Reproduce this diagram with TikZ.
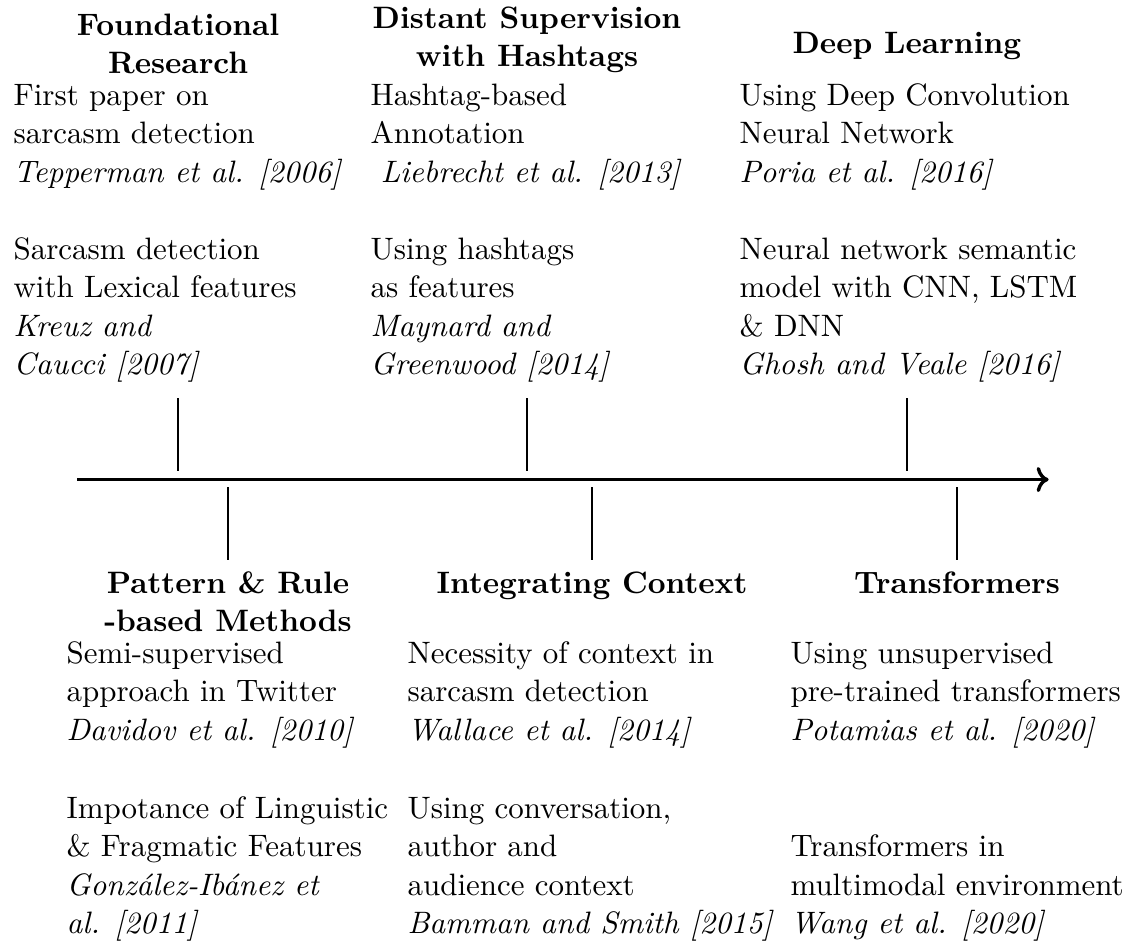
\documentclass[tikz,border=0pt]{standalone}
\usepackage{fontspec}
\usetikzlibrary{arrows.meta, positioning}
\tikzset{
  era/.style={font=\fontsize{10.95}{13.6}\selectfont\bfseries, align=center, inner sep=0pt, anchor=base},
  paper/.style={font=\fontsize{10.95}{13.6}\selectfont, align=left, inner sep=0pt, anchor=base west},
  stem/.style={thick}
}
\begin{document}
\begin{tikzpicture}
\useasboundingbox (-0.957,-5.795) rectangle (13.118,5.957);

% Timeline
\coordinate (start) at (0,0);
\coordinate (end) at (12.07,0);
\draw[very thick,->] (start) -- (end);

% Stems above and below the timeline
\foreach \name/\x in {fr/1.255, ds/5.59, dl/10.31}{
  \coordinate (\name-lo) at (\x,0.11);
  \coordinate (\name-hi) at (\x,1.01);
  \draw[stem] (\name-lo) -- (\name-hi);
}
\foreach \name/\x in {pr/1.876, ic/6.398, tf/10.932}{
  \coordinate (\name-hi) at (\x,-0.093);
  \coordinate (\name-lo) at (\x,-1.0);
  \draw[stem] (\name-hi) -- (\name-lo);
}

% Foundational research (nodes sit on the baseline of their last line)
\node[era] (fr) at (1.255,5.043) {Foundational\\Research};
\node[paper] (fr-a) at (-0.795,3.696)
  {First paper on\\sarcasm detection\\\textit{Tepperman et al. [2006]}};
\node[paper] (fr-b) at (-0.795,1.304)
  {Sarcasm detection\\with Lexical features\\\textit{Kreuz and}\\\textit{Caucci [2007]}};

% Distant supervision
\node[era] (ds) at (5.59,5.130) {Distant Supervision\\with Hashtags};
\node[paper] (ds-a) at (3.640,3.696)
  {Hashtag-based\\Annotation\\\hspace*{3.6pt}\textit{Liebrecht et al. [2013]}};
\node[paper] (ds-b) at (3.640,1.304)
  {Using hashtags\\as features\\\textit{Maynard and}\\\textit{Greenwood [2014]}};

% Deep learning
\node[era] (dl) at (10.31,5.298) {Deep Learning};
\node[paper] (dl-a) at (8.224,3.696)
  {Using Deep Convolution\\Neural Network\\\textit{Poria et al. [2016]}};
\node[paper] (dl-b) at (8.224,1.304)
  {Neural network semantic\\model with CNN, LSTM\\\& DNN\\\textit{Ghosh and Veale [2016]}};

% Pattern and rule based
\node[era] (pr) at (1.876,-1.888) {Pattern \& Rule\\-based Methods};
\node[paper] (pr-a) at (-0.137,-3.236)
  {Semi-supervised\\approach in Twitter\\\textit{Davidov et al. [2010]}};
\node[paper] (pr-b) at (-0.137,-5.645)
  {Impotance of Linguistic\\\& Fragmatic Features\\\textit{González-Ibánez et}\\\textit{al. [2011]}};

% Integrating context
\node[era] (ic) at (6.398,-1.410) {Integrating Context};
\node[paper] (ic-a) at (4.099,-3.236)
  {Necessity of context in\\sarcasm detection\\\textit{Wallace et al. [2014]}};
\node[paper] (ic-b) at (4.099,-5.645)
  {Using conversation,\\author and\\audience context\\\textit{Bamman and Smith [2015]}};

% Transformers
\node[era] (tf) at (10.932,-1.410) {Transformers};
\node[paper] (tf-a) at (8.857,-3.236)
  {Using unsupervised\\pre-trained transformers\\\textit{Potamias et al. [2020]}};
\node[paper] (tf-b) at (8.857,-5.645)
  {Transformers in\\multimodal environment\\\textit{Wang et al. [2020]}};
\end{tikzpicture}
\end{document}
